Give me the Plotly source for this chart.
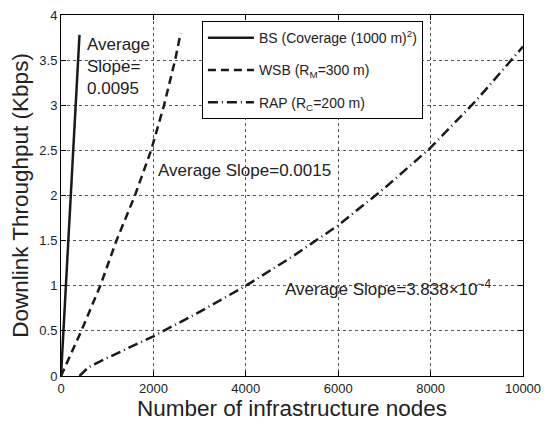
import plotly.graph_objects as go

# Data
bs_x = [0, 400]
bs_y = [0, 3.78]

wsb_x = [0, 440, 850, 1200, 1600, 1950, 2230, 2470, 2590]
wsb_y = [0, 0.5, 1.0, 1.5, 2.0, 2.5, 3.0, 3.5, 3.8]

rap_x = [400, 600, 1000, 2000, 3000, 4000, 5000, 6000, 7000, 8000, 9000, 10000]
rap_y = [0, 0.1, 0.2, 0.44, 0.71, 1.0, 1.32, 1.67, 2.08, 2.53, 3.06, 3.65]

names = ["BS (Coverage (1000 m)<sup>2</sup>)",
         "WSB (R<sub>M</sub>=300 m)",
         "RAP (R<sub>C</sub>=200 m)"]

x_ticks = [0, 2000, 4000, 6000, 8000, 10000]
y_ticks = [0, 0.5, 1, 1.5, 2, 2.5, 3, 3.5, 4]

FONT = "Liberation Sans, Arial, Helvetica, sans-serif"

fig = go.Figure()
fig.add_trace(go.Scatter(x=bs_x, y=bs_y, mode="lines", name=names[0], legendgroup="a",
                         line=dict(color="#1a1a1a", width=2.5, dash="solid")))
fig.add_trace(go.Scatter(x=wsb_x, y=wsb_y, mode="lines", name=names[1], legendgroup="b",
                         line=dict(color="#1a1a1a", width=2.5, dash="8px,5px")))
fig.add_trace(go.Scatter(x=rap_x, y=rap_y, mode="lines", name=names[2], legendgroup="c",
                         line=dict(color="#1a1a1a", width=2.5, dash="10px,4px,1px,4px")))

ann_font = dict(family=FONT, size=17, color="#222")
fig.add_annotation(x=520, y=3.43, xref="x", yref="y", xanchor="left", yanchor="middle",
                   text="Average<br>Slope=<br>0.0095", showarrow=False, align="left", font=ann_font)
fig.add_annotation(x=2050, y=2.28, xref="x", yref="y", xanchor="left", yanchor="middle",
                   text="Average Slope=0.0015", showarrow=False, align="left", font=ann_font)
fig.add_annotation(x=4800, y=0.98, xref="x", yref="y", xanchor="left", yanchor="middle",
                   text="Average Slope=3.838×10<sup>−4</sup>", showarrow=False, align="left", font=ann_font)

axis_common = dict(showline=True, linecolor="black", linewidth=1, mirror="ticks",
                   ticks="inside", ticklen=5, tickcolor="black",
                   showgrid=True, gridcolor="#555", griddash="dot", gridwidth=1,
                   zeroline=False, tickfont=dict(family=FONT, size=13, color="#222"))

fig.update_xaxes(range=[0, 10000], tickvals=x_ticks, tickformat="d",
                 title=dict(text="Number of infrastructure nodes", font=dict(family=FONT, size=22.5, color="#222"), standoff=1),
                 **axis_common)
fig.update_yaxes(range=[0, 4], tickvals=y_ticks,
                 title=dict(text="Downlink Throughput (Kbps)", font=dict(family=FONT, size=22.5, color="#222"), standoff=4),
                 **axis_common)

fig.update_layout(
    width=549, height=425,
    margin=dict(l=61, r=19, t=8, b=49),
    plot_bgcolor="white", paper_bgcolor="white",
    legend=dict(x=0.305, y=0.983, xanchor="left", yanchor="top",
                bordercolor="black", borderwidth=1, bgcolor="white",
                font=dict(family=FONT, size=14, color="#222"),
                tracegroupgap=11, traceorder="grouped", itemwidth=46),
    showlegend=True,
)

fig.write_html("out.html")
